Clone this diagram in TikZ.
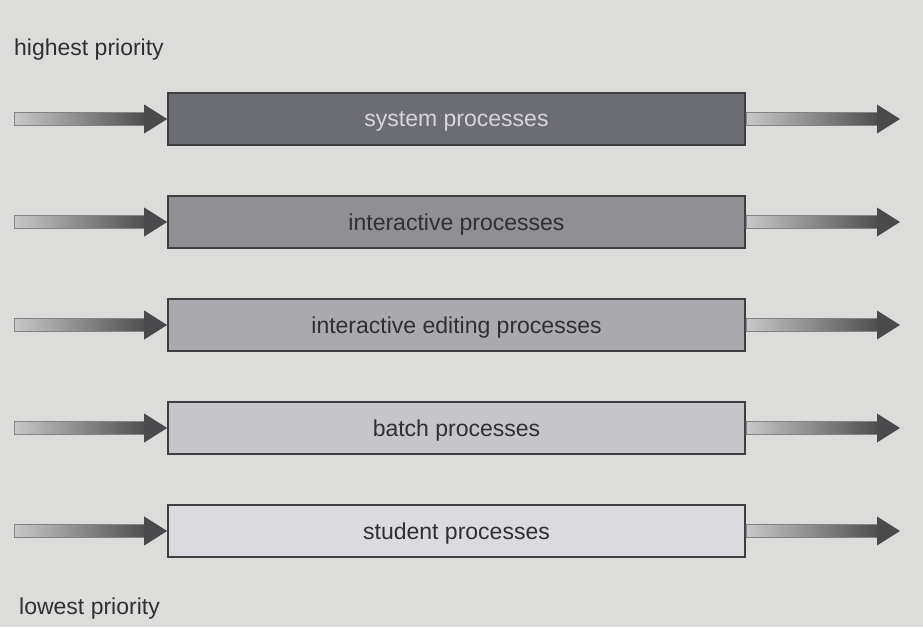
\documentclass[tikz,border=0pt]{standalone}
\usepackage{fontspec}
\setmainfont{Liberation Sans}
\usetikzlibrary{calc}
\definecolor{paper}{RGB}{220,220,218}
\definecolor{qedge}{RGB}{62,62,64}
\definecolor{qone}{RGB}{108,108,116}
\definecolor{qtwo}{RGB}{143,143,148}
\definecolor{qthree}{RGB}{169,169,174}
\definecolor{qfour}{RGB}{198,198,202}
\definecolor{qfive}{RGB}{218,218,223}
\definecolor{inktext}{RGB}{48,48,50}
\definecolor{inklight}{RGB}{214,214,218}
\definecolor{shaftlight}{RGB}{200,200,200}
\definecolor{shaftdark}{RGB}{78,78,80}
\definecolor{headfill}{RGB}{74,74,76}

% shaft with a grey gradient, then a solid head ending at #2
\newcommand{\flowarrow}[2]{%
  \shade[left color=shaftlight,right color=shaftdark,draw=shaftdark!70,line width=0.6pt]
    ($(#1)+(0,-6.5)$) rectangle ($(#2)+(-22,6.5)$);
  \fill[headfill] ($(#2)+(-23,-14.5)$) -- (#2) -- ($(#2)+(-23,14.5)$) -- cycle;}

\begin{document}
\begin{tikzpicture}[x=1pt,y=-1pt,
  queue/.style={draw=qedge,line width=1.6pt,minimum width=577pt,minimum height=52pt,
                inner sep=0pt,text depth=0pt,font=\fontsize{23}{27}\selectfont},
  level/.style={font=\fontsize{23}{27}\selectfont,text=inktext,anchor=west,inner sep=0pt}
]
\fill[paper] (0,0) rectangle (923,627);
\useasboundingbox (0,0) rectangle (923,627);

\node[level] (top) at (14,50) {highest priority};
\node[level] (bottom) at (19,609) {lowest priority};

% one queue per row, highest priority first
\foreach \i/\y/\qname/\qfill/\qtext in {
    1/119/system processes/qone/inklight,
    2/222/interactive processes/qtwo/inktext,
    3/325/interactive editing processes/qthree/inktext,
    4/428/batch processes/qfour/inktext,
    5/531/student processes/qfive/inktext}{
  \node[queue,fill=\qfill,text=\qtext] (q\i) at (456.5,\y) {\qname};
  \coordinate (in\i) at (14,\y);
  \coordinate (out\i) at (900,\y);
  \flowarrow{in\i}{q\i.west}
  \flowarrow{q\i.east}{out\i}
}
\end{tikzpicture}
\end{document}
